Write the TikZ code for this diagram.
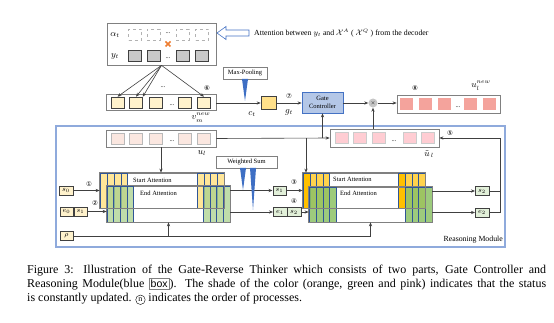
\documentclass[tikz,border=0pt]{standalone}
\usepackage{fontspec}
\setmainfont{Liberation Serif}
\newfontfamily\symf{DejaVu Sans}
\newfontfamily\sansf{Liberation Sans}
\usetikzlibrary{arrows.meta}
\definecolor{cellgray}{HTML}{C9C9C9}
\definecolor{darkb}{HTML}{404040}
\definecolor{peach}{HTML}{FFF2CC}
\definecolor{cty}{HTML}{FFE08A}
\definecolor{gatef}{HTML}{B4C7E7}
\definecolor{gated}{HTML}{4472C4}
\definecolor{salmon}{HTML}{F4A39C}
\definecolor{lpink}{HTML}{FBE7E0}
\definecolor{mpink}{HTML}{FFCDD3}
\definecolor{rmblue}{HTML}{8FAADC}
\definecolor{tri}{HTML}{3E6FC4}
\definecolor{yA}{HTML}{FFE699}
\definecolor{yB}{HTML}{FFD34D}
\definecolor{yBd}{HTML}{FFC000}
\definecolor{gA}{HTML}{A9D18E}
\definecolor{gB}{HTML}{8CC266}
\definecolor{colb}{HTML}{2F5597}
\definecolor{lgreen}{HTML}{E2F0D9}
\definecolor{orng}{HTML}{ED7D31}
\tikzset{
  frame/.style={draw=gray, line width=0.7pt},
  cell/.style={minimum width=13pt, minimum height=11pt, inner sep=0pt, draw=darkb, line width=0.6pt},
  pcell/.style={minimum width=13pt, minimum height=11pt, inner sep=0pt},
  arr/.style={-{Stealth[length=4pt,width=3.2pt]}, line width=0.6pt, draw=darkb},
  ln/.style={line width=0.6pt, draw=darkb},
  sbox/.style={draw=darkb, line width=0.5pt, inner sep=0pt, minimum width=13.5pt, minimum height=9pt, font=\fontsize{7}{7}\selectfont},
  num/.style={font=\symf\fontsize{6.5}{7}\selectfont, inner sep=0pt},
  lbl/.style={font=\fontsize{6.5}{7}\selectfont, inner sep=0pt},
  mlbl/.style={font=\fontsize{9}{9}\selectfont, inner sep=0pt},
  col/.style={draw=colb, line width=0.4pt},
  attbox/.style={draw=gray, line width=0.7pt, inner sep=0pt},
  tribox/.style={draw=gray, line width=0.6pt, fill=white, inner sep=0pt, font=\fontsize{6.5}{7}\selectfont}
}
\begin{document}
\begin{tikzpicture}[x=1pt,y=-1pt]
\useasboundingbox (0,0) rectangle (554,323);
% ---------- top decoder box ----------
\node[frame, minimum width=109pt, minimum height=42pt, inner sep=0pt] (top) at (161.5,44) {};
\node[mlbl] (alab) at (115,35) {$\alpha_t$};
\node[mlbl] (ylab) at (115,56) {$y_t$};
\foreach \i/\x in {1/135,2/153.5,3/182.5,4/202} {
  \node[pcell, draw=gray!60, dashed, line width=0.5pt] (a\i) at (\x,35) {};
  \node[cell, fill=cellgray] (y\i) at (\x,56) {};
}
\node[lbl] (adots) at (168,33) {...};
\node[lbl] (ydots) at (168,58) {...};
\draw[orng, line width=1.6pt] (165.5,41.5) -- (170.5,46.5) (165.5,46.5) -- (170.5,41.5);
% hollow arrow + text
\draw[draw=gated, fill=white, line width=0.6pt] (217,33) -- (226,26.5) -- (226,30) -- (249,30) -- (249,36) -- (226,36) -- (226,39.5) -- cycle;
\node[font=\fontsize{7.8}{8}\selectfont, anchor=west, inner sep=0pt] (atttxt) at (254,33) {Attention between $y_t$ and $\mathcal{X}^A$ ( $\mathcal{X}^Q$ ) from the decoder};
% ---------- v_m^new ----------
\node[frame, minimum width=110pt, minimum height=16pt, inner sep=0pt] (vbox) at (161,102.5) {};
\foreach \i/\x in {1/117.5,2/136,3/155.5,4/185,5/204}
  \node[cell, fill=peach] (v\i) at (\x,102.5) {};
\node[lbl] (vdots) at (172,105) {...};
\node[lbl] (vdots2) at (163,87) {...};
\node[num] (n6) at (207,88) {⑥};
\node[mlbl] (vlab) at (201,118) {$v^{new}_{\raisebox{-1.5pt}{$\scriptstyle m$}}$};
\draw[arr] (top.south) -- (v1.north);
\draw[arr] (top.south) -- (v2.north);
\draw[arr] (top.south) -- (v2.north east);
\draw[arr] (top.south) -- (v5.north);
% max pooling
\node[tribox, minimum width=44pt, minimum height=12pt] (maxp) at (245,73) {Max-Pooling};
\fill[tri] (242,79) -- (248,79) -- (245,101) -- cycle;
\node[draw=darkb, line width=0.6pt, fill=cty, minimum width=15pt, minimum height=13pt, inner sep=0pt] (ct) at (268.5,103) {};
\draw[arr] (vbox.east |- ct) -- (ct.west);
\node[mlbl] (ctlab) at (252,114) {$c_t$};
% gate controller
\node[draw=gated, line width=0.7pt, fill=gatef, minimum width=41pt, minimum height=21pt, inner sep=0pt, align=center, font=\fontsize{6.5}{7.5}\selectfont] (gate) at (322.5,102.5) {Gate\\Controller};
\draw[arr] (ct.east) -- (ct.east -| gate.west);
\node[num] (n7) at (289,96) {⑦};
\node[mlbl] (gtlab) at (289,112) {$g_t$};
\node[circle, fill=gray!45, minimum size=9pt, inner sep=0pt, font=\fontsize{5}{5}\selectfont] (mult) at (373,103) {$\times$};
\draw[arr] (gate.east |- mult) -- (mult.west);
% u_l^new
\node[frame, minimum width=103pt, minimum height=18pt, inner sep=0pt] (unew) at (448.5,104) {};
\foreach \i/\x in {1/406,2/425,3/444,4/470,5/489}
  \node[pcell, fill=salmon, minimum height=12pt] (un\i) at (\x,104) {};
\node[lbl] (undots) at (458,107) {...};
\draw[arr] (mult.east) -- (unew.west |- mult);
\node[num] (n8) at (415,88) {⑧};
\node[mlbl] (unlab) at (481,85.5) {$u^{new}_{\raisebox{-1.5pt}{$\scriptstyle l$}}$};
% ---------- reasoning module ----------
\draw[draw=rmblue, line width=1.5pt] (56,126) rectangle (505,247);
\node[font=\fontsize{7.8}{8}\selectfont, anchor=east, inner sep=0pt] (rmlab) at (503,239.5) {Reasoning Module};
% u_l box
\node[frame, minimum width=110pt, minimum height=17pt, inner sep=0pt] (ul) at (161,138.5) {};
\foreach \i/\x in {1/117.5,2/136,3/155.5,4/185,5/204}
  \node[cell, fill=lpink, draw=gray!55] (ul\i) at (\x,138.5) {};
\node[lbl] (uldots) at (172,141) {...};
\node[mlbl] (ullab) at (202,153) {$u_l$};
% u tilde box
\node[frame, minimum width=109pt, minimum height=18pt, inner sep=0pt] (ut) at (384.5,138) {};
\foreach \i/\x in {1/341.5,2/360,3/379,4/409.5,5/428}
  \node[cell, fill=mpink, draw=gray!40] (ut\i) at (\x,138) {};
\node[lbl] (utdots) at (394,141) {...};
\node[mlbl] (utlab) at (429,154) {$\tilde{u}_{\,l}$};
\node[num] (n5) at (450,133) {⑤};
% weighted sum
\node[tribox, minimum width=61pt, minimum height=12pt] (wsum) at (246.5,162) {Weighted Sum};
% ---------- attention block 1 ----------
\node[attbox, fill=white, minimum width=124pt, minimum height=35pt] (start1) at (162,190.5) {};
\foreach \a/\b in {100/107,107/114,114/121,121/127,197/204,204/210,210/217,217/224}
  \filldraw[col, fill=yA] (\a,173) rectangle (\b,208);
\node[attbox, minimum width=123pt, minimum height=36pt] (end1) at (168.5,204) {};
\foreach \a/\b in {107/113,113/120,120/127,127/133,203/210,210/216,216/223,223/230}
  \filldraw[col, fill=gA, fill opacity=0.75] (\a,186) rectangle (\b,222);
\draw[draw=gray, line width=0.7pt] (start1.south west) rectangle (start1.north east);
\draw[draw=gray, line width=0.7pt] (end1.south west) rectangle (end1.north east);
\node[lbl, anchor=west] (st1) at (133,180) {Start Attention};
\node[lbl, anchor=west] (en1) at (140,193) {End Attention};
% ---------- attention block 2 ----------
\node[attbox, fill=white, minimum width=122pt, minimum height=35pt] (start2) at (364,190.5) {};
\filldraw[col, fill=yBd] (303,173) rectangle (310,208);
\filldraw[col, fill=yBd] (398,173) rectangle (405,208);
\foreach \a/\b in {310/316,316/323,323/329,405/412,412/418,418/425}
  \filldraw[col, fill=yB] (\a,173) rectangle (\b,208);
\node[attbox, minimum width=123pt, minimum height=35pt] (end2) at (370.5,204.5) {};
\foreach \a/\b in {309/316,316/323,323/329,329/336,405/412,412/418,418/425,425/432}
  \filldraw[col, fill=gB, fill opacity=0.85] (\a,187) rectangle (\b,222);
\draw[draw=gray, line width=0.7pt] (start2.south west) rectangle (start2.north east);
\draw[draw=gray, line width=0.7pt] (end2.south west) rectangle (end2.north east);
\node[lbl, anchor=west] (st2) at (333,179) {Start Attention};
\node[lbl, anchor=west] (en2) at (340,193) {End Attention};
% ---------- inputs ----------
\node[sbox, fill=peach] (s0) at (66,190.5) {$s_0$};
\node[sbox, fill=peach] (e0) at (66.5,211.5) {$e_0$};
\node[sbox, fill=peach, anchor=west] (s1a) at (e0.east) {$s_1$};
\node[sbox, fill=peach] (rho) at (66.5,236) {$\rho$};
\draw[arr] (s0.east) -- (s0.east -| start1.west);
\draw[arr] (s1a.east) -- (s1a.east -| end1.west);
\node[num] (n1) at (89,184) {①};
\node[num] (n2) at (95,203) {②};
\coordinate (rhoend) at (end2.south |- rho);
\draw[ln] (rho.east) -- (rhoend);
\draw[arr] (rhoend) -- (end2.south);
\draw[arr] (rho.east -| end1.south) -- (end1.south);
% block 1 outputs -> block 2 inputs
\node[sbox, fill=lgreen] (s1) at (279.5,190.5) {$s_1$};
\node[sbox, fill=lgreen] (e1) at (280,212) {$e_1$};
\node[sbox, fill=lgreen, anchor=west] (s2a) at (e1.east) {$s_2$};
\draw[arr] (end1.east |- s1) -- (s1.west);
\draw[arr] (end1.east |- e1) -- (e1.west);
\fill[tri] (240,168) -- (246,168) -- (243,190) -- cycle;
\fill[tri] (250,168) -- (256,168) -- (253,210) -- cycle;
\draw[arr] (s1.east) -- (s1.east -| start2.west);
\draw[arr] (s2a.east) -- (s2a.east -| end2.west);
\node[num] (n3) at (294,182) {③};
\node[num] (n4) at (294,201) {④};
% block 2 outputs
\node[sbox, fill=lgreen] (s2) at (482,191) {$s_2$};
\node[sbox, fill=lgreen] (e2) at (482,212.5) {$e_2$};
\draw[arr] (end2.east |- s2) -- (s2.west);
\draw[arr] (end2.east |- e2) -- (e2.west);
\coordinate (rtop) at (500,138);
\draw[ln] (s2.east) -- (s2.east -| rtop);
\draw[ln] (e2.east) -- (e2.east -| rtop) -- (rtop);
\draw[arr] (rtop) -- (ut.east |- rtop);
% u_l connections
\draw[arr] (ul.south) -- (ul.south |- start1.north);
\draw[arr] (ul.east) -- (ut.west);
\coordinate (br1) at (306,138.5);
\draw[arr] (br1) -- (br1 |- start2.north);
\coordinate (br2) at (gate.south |- ul.east);
\draw[arr] (br2) -- (gate.south);
\draw[arr] (mult.south |- ut.north) -- (mult.south);
% ---------- caption ----------
\node[anchor=north west, inner sep=0pt, text width=519pt, align=justify, font=\fontsize{12}{14}\selectfont] (cap) at (27,265) {Figure 3: Illustration of the Gate-Reverse Thinker which consists of two parts, Gate Controller and\linebreak Reasoning Module(blue {\setlength\fboxsep{1.5pt}\fcolorbox{gray}{white}{\sansf\fontsize{10.5}{11}\selectfont box}}). The shade of the color (orange, green and pink) indicates that the status\linebreak is constantly updated. \tikz[x=1pt,y=1pt,baseline=(cn.base)]{\node[draw, circle, line width=0.4pt, inner sep=0.5pt, minimum size=9.5pt, font=\fontsize{8}{8}\selectfont] (cn) {n};} indicates the order of processes.};
\end{tikzpicture}
\end{document}
